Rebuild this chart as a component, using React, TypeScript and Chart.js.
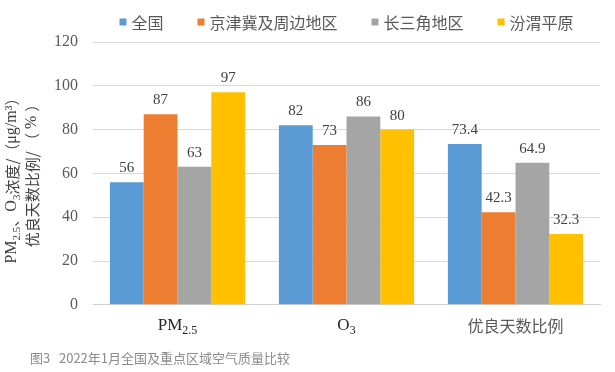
import React, { useEffect, useRef } from "react";
import { Chart, registerables } from "chart.js";

Chart.register(...registerables);

const categories = ["PM2.5", "O3", "优良天数比例"];
const seriesNames = ["全国", "京津冀及周边地区", "长三角地区", "汾渭平原"];
const nationalValues = [56, 82, 73.4];
const jingjinjiValues = [87, 73, 42.3];
const yangtzeValues = [63, 86, 64.9];
const fenweiValues = [97, 80, 32.3];
const colors = ["#5B9BD5", "#ED7D31", "#A5A5A5", "#FFC000"];
const caption = "图3   2022年1月全国及重点区域空气质量比较";

const SERIF = "'Liberation Serif', 'Times New Roman', serif";
const CJK = "'Noto Sans CJK SC', sans-serif";

type Seg = { t: string; sub?: boolean; cjk?: boolean };

function segFont(s: Seg, size: number) {
  const sz = s.sub ? Math.round(size * 0.7) : s.cjk ? size - 1 : size;
  return `${sz}px ${s.cjk ? CJK : SERIF}`;
}

function drawRich(ctx: CanvasRenderingContext2D, segs: Seg[], cx: number, cy: number, size: number) {
  ctx.save();
  ctx.textBaseline = "middle";
  ctx.textAlign = "left";
  let total = 0;
  for (const s of segs) {
    ctx.font = segFont(s, size);
    total += ctx.measureText(s.t).width;
  }
  let x = cx - total / 2;
  for (const s of segs) {
    ctx.font = segFont(s, size);
    ctx.fillText(s.t, x, cy + (s.sub ? size * 0.3 : 0));
    x += ctx.measureText(s.t).width;
  }
  ctx.restore();
}

const xLabelSegs: Seg[][] = [
  [{ t: "PM" }, { t: "2.5", sub: true }],
  [{ t: "O" }, { t: "3", sub: true }],
  [{ t: "优良天数比例", cjk: true }],
];

const yTitle1: Seg[] = [
  { t: "PM" },
  { t: "2.5", sub: true },
  { t: "、", cjk: true },
  { t: "O" },
  { t: "3", sub: true },
  { t: "浓度/（", cjk: true },
  { t: "μg/m³" },
  { t: "）", cjk: true },
];
const yTitle2: Seg[] = [
  { t: "优良天数比例/ （", cjk: true },
  { t: " % " },
  { t: "）", cjk: true },
];

const customPlugin = {
  id: "custom",
  afterDatasetsDraw(chart: any) {
    const ctx = chart.ctx as CanvasRenderingContext2D;
    ctx.save();
    ctx.fillStyle = "#404040";
    ctx.font = `15px ${SERIF}`;
    ctx.textAlign = "center";
    ctx.textBaseline = "alphabetic";
    chart.data.datasets.forEach((ds: any, i: number) => {
      const meta = chart.getDatasetMeta(i);
      meta.data.forEach((bar: any, j: number) => {
        ctx.fillText(String(ds.data[j]), bar.x, bar.y - 10);
      });
    });
    ctx.restore();
  },
  afterDraw(chart: any) {
    const ctx = chart.ctx as CanvasRenderingContext2D;
    const xs = chart.scales.x;
    const ca = chart.chartArea;
    ctx.save();
    xLabelSegs.forEach((segs, i) => {
      const x = xs.getPixelForTick(i);
      const isCjk = segs[0].cjk;
      ctx.fillStyle = isCjk ? "#595959" : "#262626";
      drawRich(ctx, segs, x, ca.bottom + 21, 17);
    });
    ctx.fillStyle = "#404040";
    ctx.save();
    ctx.translate(12, 177);
    ctx.rotate(-Math.PI / 2);
    drawRich(ctx, yTitle1, 0, 0, 16);
    ctx.restore();
    ctx.save();
    ctx.translate(32, 172);
    ctx.rotate(-Math.PI / 2);
    drawRich(ctx, yTitle2, 0, 0, 16);
    ctx.restore();
    ctx.font = `16px ${CJK}`;
    ctx.textBaseline = "middle";
    ctx.textAlign = "left";
    const box = 7;
    const gapBoxText = 5;
    const gapItem = 34;
    const widths = seriesNames.map((n) => ctx.measureText(n).width);
    const total = widths.reduce((a, w) => a + box + gapBoxText + w, 0) + gapItem * (seriesNames.length - 1);
    let lx = (ca.left + ca.right) / 2 - total / 2;
    const ly = 22;
    seriesNames.forEach((n, i) => {
      ctx.fillStyle = colors[i];
      ctx.fillRect(lx, ly - 3.5, box, box);
      ctx.fillStyle = "#595959";
      ctx.fillText(n, lx + box + gapBoxText, ly + 1);
      lx += box + gapBoxText + widths[i] + gapItem;
    });
    ctx.font = `13px ${CJK}`;
    ctx.fillStyle = "#8c8c8c";
    ctx.fillText(caption, 30, 358);
    ctx.restore();
  },
};

export default function App() {
  const ref = useRef<HTMLCanvasElement>(null);
  useEffect(() => {
    if (!ref.current) return;
    const allValues = [nationalValues, jingjinjiValues, yangtzeValues, fenweiValues];
    const chart = new Chart(ref.current, {
      type: "bar",
      data: {
        labels: categories,
        datasets: seriesNames.map((name, i) => ({
          label: name,
          data: allValues[i],
          backgroundColor: colors[i],
          borderWidth: 0,
          barPercentage: 1,
          categoryPercentage: 0.8,
        })),
      },
      options: {
        responsive: false,
        animation: false,
        layout: { padding: { left: 39, right: 15, top: 42, bottom: 16 } },
        plugins: {
          legend: { display: false },
          title: { display: false },
          tooltip: { enabled: false },
        },
        scales: {
          x: {
            grid: { display: false },
            border: { color: "#d0d0d0" },
            ticks: { color: "rgba(0,0,0,0)", font: { size: 16, family: SERIF }, padding: 12 },
          },
          y: {
            min: 0,
            max: 120,
            ticks: { stepSize: 20, color: "#595959", font: { size: 16, family: SERIF }, padding: 15 },
            grid: { color: "#d9d9d9", drawTicks: false },
            border: { display: false },
          },
        },
      },
      plugins: [customPlugin],
    });
    return () => chart.destroy();
  }, []);
  return (
    <div style={{ position: "absolute", left: 0, top: 0, width: 615, height: 372, background: "#fff" }}>
      <canvas ref={ref} width={615} height={372} style={{ width: 615, height: 372 }} />
    </div>
  );
}
